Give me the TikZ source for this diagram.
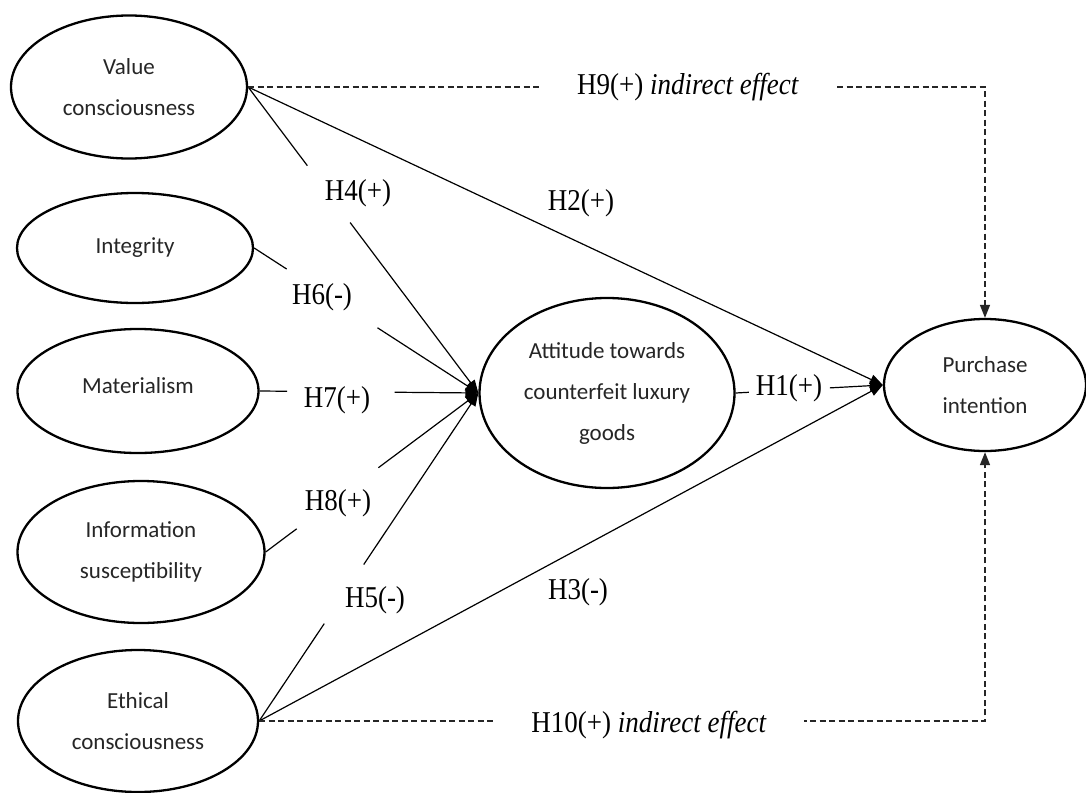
\documentclass[tikz,border=0pt]{standalone}
\usepackage{fontspec}
\setmainfont{Liberation Serif}
\newfontfamily\ellfont{Carlito}
\usetikzlibrary{arrows.meta,calc,shapes.geometric}
\newcommand{\tallH}[1]{\scalebox{1}[1.12]{#1}}
\begin{document}
\begin{tikzpicture}[x=1pt,y=-1pt,
  ell/.style={draw,line width=2.3pt,ellipse,inner sep=0pt,align=center,
    font=\ellfont\fontsize{23}{41}\selectfont,text=black!85},
  conn/.style={line width=1.2pt},
  tip/.style={-{Triangle[length=13pt,width=10pt]}},
  dline/.style={line width=1.3pt,dash pattern=on 6pt off 3.5pt,black!85},
  lab/.style={font=\fontsize{27}{30}\selectfont,inner sep=0pt},
  wlab/.style={lab,fill=white,inner xsep=37pt,inner ysep=3pt},
]
\fill[white] (0,0) rectangle (1086,792);
\useasboundingbox (0,0) rectangle (1086,792);

% ellipses
\node[ell,minimum width=236pt,minimum height=143pt] (VC) at (129,87) {Value\\consciousness};
\node[ell,minimum width=236pt,minimum height=110pt] (IN) at (135,248) {\raisebox{4pt}{Integrity}};
\node[ell,minimum width=241pt,minimum height=124pt] (MA) at (138,391) {\raisebox{10pt}{Materialism}};
\node[ell,minimum width=247pt,minimum height=142pt] (IS) at (141,552) {Information\\susceptibility};
\node[ell,minimum width=240pt,minimum height=142pt] (EC) at (138,721) {Ethical\\consciousness};
\node[ell,minimum width=255pt,minimum height=190pt] (AT) at (607,393) {Attitude towards\\counterfeit luxury\\goods};
\node[ell,minimum width=202pt,minimum height=132pt] (PI) at (985,385) {Purchase\\intention};

\coordinate (A) at (AT.west);
\coordinate (P) at (PI.west);

% H4
\draw[conn] (VC.east) -- ($(VC.east)!0.257!(A)$);
\draw[conn,tip] ($(VC.east)!0.443!(A)$) -- (A);
% H6
\draw[conn] (IN.east) -- ($(IN.east)!0.145!(A)$);
\draw[conn,tip] ($(IN.east)!0.55!(A)$) -- (A);
% H7
\draw[conn] (MA.east) -- ($(MA.east)!0.126!(A)$);
\draw[conn,tip] ($(MA.east)!0.617!(A)$) -- (A);
% H8
\draw[conn] (IS.east) -- ($(IS.east)!0.146!(A)$);
\draw[conn,tip] ($(IS.east)!0.53!(A)$) -- (A);
% H5
\draw[conn] (EC.east) -- ($(EC.east)!0.297!(A)$);
\draw[conn,tip] ($(EC.east)!0.477!(A)$) -- (A);
% H2, H3
\draw[conn,tip] (VC.east) -- (P);
\draw[conn,tip] (EC.east) -- (P);
% H1
\draw[conn] (AT.east) -- ($(AT.east)!0.09!(P)$);
\draw[conn,tip] ($(AT.east)!0.64!(P)$) -- (P);

% indirect effects
\draw[dline,tip] (VC.east) -- (VC.east -| PI.north) -- (PI.north);
\draw[dline,tip] (EC.east) -- (EC.east -| PI.south) -- (PI.south);

% labels
\node[lab] (h4) at (358,193) {\tallH{H4(+)}};
\node[lab] (h2) at (581,203) {\tallH{H2(+)}};
\node[lab] (h6) at (322,297) {\tallH{H6(-)}};
\node[lab] (h7) at (337,400) {\tallH{H7(+)}};
\node[lab] (h8) at (338,503) {\tallH{H8(+)}};
\node[lab] (h5) at (375,600) {\tallH{H5(-)}};
\node[lab] (h3) at (578,592) {\tallH{H3(-)}};
\node[lab] (h1) at (789,388) {\tallH{H1(+)}};
\node[wlab] (h9) at (688,87) {\tallH{H9(+) \textit{indirect effect}}};
\node[wlab] (h10) at (649,725) {\tallH{H10(+) \textit{indirect effect}}};
\end{tikzpicture}
\end{document}
